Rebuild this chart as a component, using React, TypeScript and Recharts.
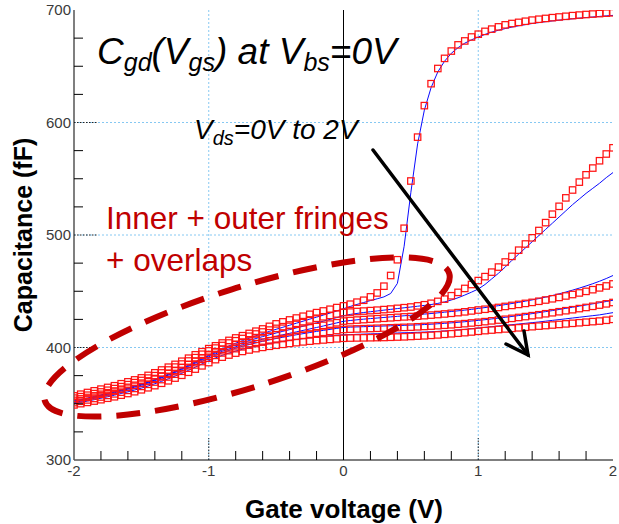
import React from 'react';
import { ComposedChart, Line, XAxis, YAxis, ReferenceLine } from 'recharts';

// Gate voltage sweep (V)
const gateVoltage = [
  -2.0, -1.95, -1.9, -1.85, -1.8, -1.75, -1.7, -1.65, -1.6, -1.55, -1.5,
  -1.45, -1.4, -1.35, -1.3, -1.25, -1.2, -1.15, -1.1, -1.05, -1.0,
  -0.95, -0.9, -0.85, -0.8, -0.75, -0.7, -0.65, -0.6, -0.55, -0.5,
  -0.45, -0.4, -0.35, -0.3, -0.25, -0.2, -0.15, -0.1, -0.05, 0.0,
  0.05, 0.1, 0.15, 0.2, 0.25, 0.3, 0.35, 0.4, 0.45, 0.5,
  0.55, 0.6, 0.65, 0.7, 0.75, 0.8, 0.85, 0.9, 0.95, 1.0,
  1.05, 1.1, 1.15, 1.2, 1.25, 1.3, 1.35, 1.4, 1.45, 1.5,
  1.55, 1.6, 1.65, 1.7, 1.75, 1.8, 1.85, 1.9, 1.95, 2.0,
];

// Measured Cgd (fF), one list per drain bias
const measVds0 = [
  357, 358.5, 360, 361.5, 363, 364.5, 366, 367.8, 369.5, 371.2, 373,
  375.2, 377.5, 380, 382.5, 385, 387.8, 390.5, 393.5, 396.3, 399,
  401.5, 404, 406.3, 408.5, 410.5, 412.5, 414.5, 416.5, 418.8, 421,
  422.8, 424.5, 426.2, 427.8, 429.5, 431, 432.5, 434, 435.5, 437,
  438.5, 440.3, 442, 445, 448.5, 454.5, 464, 478, 506, 548,
  587, 615, 634.5, 648, 657, 663.5, 669, 672.5, 676, 678.5,
  681, 683, 685, 686.8, 688, 689, 690, 691, 691.8, 692.5,
  693.2, 693.8, 694.4, 695, 695.5, 696, 696.4, 696.8, 697.2, 697.5,
];
const measVds05 = [
  355, 356.3, 357.6, 359, 360.5, 362, 363.5, 365.2, 367, 368.8, 370.7,
  372.8, 375, 377.4, 380, 382.6, 385.3, 388, 391, 394, 397,
  399.5, 401.8, 404, 406, 408, 410, 412, 413.8, 415.5, 417,
  418.5, 420, 421.5, 423, 424.5, 426, 427.3, 428.5, 429.8, 431,
  431.5, 432, 432.4, 432.8, 433.2, 433.7, 434.2, 434.8, 435.4, 436,
  437, 438, 439.3, 441, 443, 446, 449, 452.5, 456, 459.5,
  463, 467, 471.5, 476, 481, 486.5, 492, 497.5, 504, 511,
  518.5, 525.5, 533, 540, 547, 553.5, 559.5, 566, 572, 577.5,
];
const measVds1 = [
  353, 354.3, 355.6, 357, 358.4, 359.8, 361.3, 362.9, 364.6, 366.4, 368.3,
  370.3, 372.4, 374.7, 377.1, 379.6, 382.2, 384.9, 387.8, 390.8, 393.8,
  396.3, 398.5, 400.6, 402.5, 404.2, 405.8, 407.3, 408.7, 410, 411.3,
  412.6, 413.9, 415.1, 416.3, 417.5, 418.6, 419.7, 420.8, 422, 423.5,
  424, 424.4, 424.8, 425.2, 425.6, 426, 426.4, 426.8, 427.2, 427.5,
  427.9, 428.3, 428.8, 429.3, 429.8, 430.4, 431, 431.7, 432.5, 433.3,
  434, 434.8, 435.6, 436.5, 437.4, 438.3, 439.2, 440.1, 441.1, 442.2,
  443.3, 444.5, 445.8, 447.1, 448.5, 449.9, 451.4, 453, 454.7, 456.5,
];
const measVds15 = [
  351, 352.2, 353.4, 354.7, 356, 357.4, 358.8, 360.3, 361.9, 363.6, 365.4,
  367.3, 369.3, 371.5, 373.8, 376.3, 378.9, 381.6, 384.5, 387.5, 390.5,
  393, 395.2, 397.2, 399, 400.6, 402.1, 403.5, 404.8, 406, 407,
  408, 409, 410, 410.9, 411.8, 412.7, 413.5, 414.3, 415.1, 416,
  416.3, 416.5, 416.7, 416.9, 417.1, 417.3, 417.5, 417.7, 417.9, 418.1,
  418.4, 418.7, 419, 419.4, 419.8, 420.2, 420.7, 421.2, 421.8, 422.4,
  423, 423.7, 424.4, 425.1, 425.9, 426.7, 427.5, 428.3, 429.1, 430,
  430.9, 431.8, 432.7, 433.6, 434.6, 435.6, 436.6, 437.7, 438.8, 440,
];
const measVds2 = [
  349, 350.1, 351.2, 352.4, 353.6, 354.9, 356.2, 357.6, 359.1, 360.7, 362.4,
  364.2, 366.1, 368.2, 370.4, 372.8, 375.3, 378, 380.8, 383.7, 386.6,
  389.2, 391.4, 393.3, 395, 396.5, 397.8, 399, 400.1, 401.1, 402,
  402.8, 403.6, 404.3, 405, 405.6, 406.2, 406.7, 407.2, 407.7, 408.2,
  408.4, 408.5, 408.6, 408.7, 408.8, 408.9, 409.1, 409.3, 409.5, 409.8,
  410.1, 410.4, 410.8, 411.2, 411.7, 412.2, 412.7, 413.2, 413.8, 414.4,
  415, 415.5, 416, 416.5, 417, 417.5, 418, 418.5, 419, 419.5,
  420, 420.5, 421, 421.5, 422, 422.5, 423, 423.5, 424.2, 425,
];

// Simulated Cgd (fF) from the compact model
const modelVds0 = [
  352.5, 353.8, 355.1, 356.5, 357.9, 359.3, 360.8, 362.4, 364, 365.7, 367.5,
  369.5, 371.6, 373.9, 376.3, 378.8, 381.5, 384.3, 387.2, 390.2, 393.2,
  396, 398.8, 401.4, 403.8, 406.1, 408.3, 410.4, 412.4, 414.3, 416.2,
  418, 419.8, 421.6, 423.4, 425.2, 427, 428.8, 430.6, 432.5, 434.5,
  436.5, 438.3, 440, 441.7, 443.3, 445, 448, 457, 490, 538,
  581, 611, 631, 645, 654.5, 661.5, 666.5, 670.5, 673.5, 676,
  678.3, 680.3, 682, 683.5, 684.8, 686, 687, 688, 688.8, 689.6,
  690.3, 691, 691.6, 692.2, 692.8, 693.3, 693.8, 694.3, 694.8, 695.2,
];
const modelVds05 = [
  352, 353.3, 354.6, 356, 357.4, 358.8, 360.3, 361.9, 363.5, 365.2, 367,
  369, 371.1, 373.4, 375.8, 378.3, 381, 383.8, 386.7, 389.7, 392.7,
  395.3, 397.8, 400.1, 402.3, 404.3, 406.2, 408, 409.7, 411.3, 412.9,
  414.4, 415.9, 417.4, 418.9, 420.4, 421.9, 423.4, 425, 426.6, 428.3,
  429.4, 430.3, 431.1, 431.8, 432.5, 433.2, 433.9, 434.6, 435.3, 436,
  436.7, 437.4, 438.2, 439.2, 440.5, 442.2, 444.2, 446.6, 449.2, 452,
  456, 461, 466, 471.5, 477.5, 483, 488.5, 494, 499.5, 505,
  510.5, 516, 521.5, 527, 532, 537, 541.5, 546, 551, 555.5,
];
const modelVds1 = [
  351.5, 352.8, 354.1, 355.5, 356.9, 358.3, 359.8, 361.4, 363, 364.7, 366.5,
  368.5, 370.6, 372.9, 375.3, 377.8, 380.4, 383.1, 386, 388.9, 391.8,
  394.3, 396.6, 398.7, 400.7, 402.5, 404.2, 405.8, 407.3, 408.7, 410,
  411.3, 412.6, 413.9, 415.2, 416.5, 417.8, 419.1, 420.5, 421.9, 423.3,
  424, 424.6, 425.2, 425.7, 426.2, 426.7, 427.2, 427.7, 428.2, 428.7,
  429.2, 429.7, 430.2, 430.8, 431.4, 432, 432.6, 433.2, 433.9, 434.7,
  435.5, 436.3, 437.2, 438.1, 439.1, 440.1, 441.2, 442.3, 443.5, 444.8,
  446.2, 447.7, 449.3, 451, 452.8, 454.7, 456.7, 458.9, 461.3, 464,
];
const modelVds15 = [
  351, 352.2, 353.4, 354.7, 356, 357.4, 358.8, 360.3, 361.9, 363.6, 365.4,
  367.4, 369.5, 371.7, 374.1, 376.6, 379.2, 381.9, 384.7, 387.6, 390.5,
  393, 395.3, 397.4, 399.3, 401, 402.6, 404.1, 405.5, 406.8, 408,
  409.1, 410.2, 411.3, 412.3, 413.3, 414.3, 415.2, 416.1, 417, 417.8,
  418.1, 418.3, 418.5, 418.7, 418.9, 419.1, 419.3, 419.5, 419.7, 419.9,
  420.1, 420.4, 420.7, 421.1, 421.5, 421.9, 422.4, 422.9, 423.5, 424.1,
  424.7, 425.4, 426.1, 426.8, 427.6, 428.4, 429.2, 430.1, 431, 431.9,
  432.8, 433.8, 434.8, 435.8, 436.8, 437.8, 438.8, 439.8, 440.9, 442,
];
const modelVds2 = [
  350, 351.2, 352.4, 353.6, 354.9, 356.2, 357.6, 359.1, 360.6, 362.2, 363.9,
  365.8, 367.8, 369.9, 372.2, 374.6, 377.1, 379.7, 382.5, 385.4, 388.3,
  390.8, 393, 395, 396.8, 398.4, 399.9, 401.2, 402.4, 403.5, 404.5,
  405.4, 406.3, 407.1, 407.9, 408.6, 409.3, 409.9, 410.4, 410.9, 411.3,
  411.5, 411.7, 411.9, 412.1, 412.3, 412.5, 412.7, 412.9, 413.1, 413.3,
  413.5, 413.7, 414, 414.3, 414.7, 415.1, 415.6, 416.1, 416.7, 417.3,
  417.9, 418.5, 419.1, 419.7, 420.3, 420.9, 421.5, 422.1, 422.7, 423.4,
  424.1, 424.8, 425.5, 426.2, 426.9, 427.6, 428.3, 429, 430, 431,
];

const xTicks = [
  -2, -1.8, -1.6, -1.4, -1.2, -1, -0.8, -0.6, -0.4, -0.2, 0,
  0.2, 0.4, 0.6, 0.8, 1, 1.2, 1.4, 1.6, 1.8, 2,
];
const yTicks = [
  300, 325, 350, 375, 400, 425, 450, 475, 500, 525, 550, 575, 600,
  625, 650, 675, 700,
];
const xLabels = [-2, -1, 0, 1, 2];
const yLabels = [300, 400, 500, 600, 700];
const xGrid = [-1, 1];
const yGrid = [400, 500, 600];

const measured = [measVds0, measVds05, measVds1, measVds15, measVds2];
const model = [modelVds0, modelVds05, modelVds1, modelVds15, modelVds2];

const rows = gateVoltage.map((v, i) => {
  const r: Record<string, number> = { v };
  measured.forEach((s, k) => (r['m' + k] = s[i]));
  model.forEach((s, k) => (r['s' + k] = s[i]));
  return r;
});

const FONT = 'Arial, "Liberation Sans", sans-serif';
const GRID = '#86c8f2';
const DARK_RED = '#c00000';

const near = (a: number, list: number[]) => list.some((b) => Math.abs(a - b) < 1e-6);

const square = (p: any) => {
  const { cx, cy, key } = p;
  if (cx == null || cy == null) return <g key={key} />;
  return (
    <rect
      key={key}
      x={cx - 3.2}
      y={cy - 3.2}
      width={6.4}
      height={6.4}
      fill="none"
      stroke="#ff1414"
      strokeWidth={1.25}
    />
  );
};

const BottomTick = (p: any) => {
  const v = p.payload.value;
  const major = near(v, xLabels);
  return (
    <g>
      {!major && <line x1={p.x} x2={p.x} y1={p.y} y2={p.y - 9} stroke="#000" />}
      {major && near(v, xGrid) && (
        <line x1={p.x} x2={p.x} y1={p.y} y2={p.y - 22} stroke="#222" strokeDasharray="1.5 1.5" />
      )}
      {major && (
        <text x={p.x} y={p.y + 16} textAnchor="middle" fontSize={15} fontFamily={FONT} fill="#3a3a3a">
          {v}
        </text>
      )}
    </g>
  );
};

const TopTick = (p: any) => {
  const v = p.payload.value;
  const major = near(v, xLabels);
  return (
    <g>
      {!major && <line x1={p.x} x2={p.x} y1={p.y} y2={p.y + 9} stroke="#000" />}
      {major && near(v, xGrid) && (
        <line x1={p.x} x2={p.x} y1={p.y} y2={p.y + 22} stroke="#222" strokeDasharray="1.5 1.5" />
      )}
    </g>
  );
};

const LeftTick = (p: any) => {
  const v = p.payload.value;
  const major = near(v, yLabels);
  return (
    <g>
      {!major && <line x1={p.x} x2={p.x + 9} y1={p.y} y2={p.y} stroke="#000" />}
      {major && near(v, yGrid) && (
        <line x1={p.x} x2={p.x + 23} y1={p.y} y2={p.y} stroke="#222" strokeDasharray="1.5 1.5" />
      )}
      {major && (
        <text x={p.x - 3} y={p.y + 5} textAnchor="end" fontSize={15} fontFamily={FONT} fill="#3a3a3a">
          {v}
        </text>
      )}
    </g>
  );
};

export default function App() {
  return (
    <div style={{ position: 'relative', width: 619, height: 524, background: '#fff' }}>
      <style>{'body{margin:0}'}</style>
      <ComposedChart
        width={619}
        height={524}
        data={rows}
        margin={{ top: 10, right: 6, bottom: 34, left: 34 }}
      >
        <XAxis
          xAxisId="b"
          dataKey="v"
          type="number"
          domain={[-2, 2]}
          ticks={xTicks}
          interval={0}
          height={30}
          tickSize={0}
          tickMargin={0}
          tickLine={false}
          axisLine={{ stroke: '#000' }}
          tick={BottomTick}
          allowDataOverflow
        />
        <XAxis
          xAxisId="t"
          orientation="top"
          dataKey="v"
          type="number"
          domain={[-2, 2]}
          ticks={xTicks}
          interval={0}
          height={0}
          tickSize={0}
          tickMargin={0}
          tickLine={false}
          axisLine={{ stroke: '#000' }}
          tick={TopTick}
        />
        <YAxis
          yAxisId="l"
          type="number"
          domain={[300, 700]}
          ticks={yTicks}
          interval={0}
          width={40}
          tickSize={0}
          tickMargin={0}
          tickLine={false}
          axisLine={{ stroke: '#555', strokeWidth: 1.5 }}
          tick={LeftTick}
          allowDataOverflow
        />
        <YAxis
          yAxisId="r"
          orientation="right"
          type="number"
          domain={[300, 700]}
          width={0}
          tick={false}
          tickLine={false}
          axisLine={{ stroke: '#000' }}
        />

        {yGrid.map((y) => (
          <ReferenceLine
            key={'gy' + y}
            xAxisId="b"
            yAxisId="l"
            y={y}
            stroke={GRID}
            strokeDasharray="2 2"
          />
        ))}
        {xGrid.map((x) => (
          <ReferenceLine
            key={'gx' + x}
            xAxisId="b"
            yAxisId="l"
            x={x}
            stroke={GRID}
            strokeDasharray="2 2"
          />
        ))}
        <ReferenceLine xAxisId="b" yAxisId="l" x={0} stroke="#000" />

        {measured.map((_, k) => (
          <Line
            key={'m' + k}
            xAxisId="b"
            yAxisId="l"
            dataKey={'m' + k}
            stroke="none"
            dot={square}
            activeDot={false}
            isAnimationActive={false}
          />
        ))}
        {model.map((_, k) => (
          <Line
            key={'s' + k}
            xAxisId="b"
            yAxisId="l"
            dataKey={'s' + k}
            type="linear"
            stroke="#0a0aff"
            strokeWidth={1}
            dot={false}
            activeDot={false}
            isAnimationActive={false}
          />
        ))}
      </ComposedChart>

      <svg
        width={619}
        height={524}
        style={{ position: 'absolute', left: 0, top: 0, pointerEvents: 'none' }}
        fontFamily={FONT}
      >
        <text x={97} y={64} fontSize={37} fontStyle="italic" fill="#000">
          C<tspan fontSize={25} dy={7}>gd</tspan>
          <tspan fontSize={37} dy={-7}>(V</tspan>
          <tspan fontSize={25} dy={7}>gs</tspan>
          <tspan fontSize={37} dy={-7}>) at V</tspan>
          <tspan fontSize={25} dy={7}>bs</tspan>
          <tspan fontSize={37} dy={-7}>=0V</tspan>
        </text>
        <text x={194} y={139} fontSize={28} fontStyle="italic" fill="#000">
          V<tspan fontSize={20} dy={6}>ds</tspan>
          <tspan fontSize={28} dy={-6}>=0V to 2V</tspan>
        </text>

        <text x={106} y={229} fontSize={31.5} fill={DARK_RED}>
          Inner + outer fringes
        </text>
        <text x={106} y={271} fontSize={31.5} fill={DARK_RED}>
          + overlaps
        </text>

        <ellipse
          cx={247}
          cy={337}
          rx={212}
          ry={50}
          transform="rotate(-17.5 247 337)"
          fill="none"
          stroke={DARK_RED}
          strokeWidth={6}
          strokeDasharray="24 15"
        />

        <g stroke="#000" strokeWidth={3.5} strokeLinecap="round" fill="none">
          <line x1={373} y1={150} x2={528} y2={355} />
          <polyline points="506,344 528,355 524,331" strokeLinejoin="miter" />
        </g>

        <text
          x={23}
          y={235}
          fontSize={25}
          fontWeight="bold"
          textAnchor="middle"
          transform="rotate(-90 23 235)"
          dy={9}
          fill="#000"
        >
          Capacitance (fF)
        </text>
        <text x={344} y={518} fontSize={26} fontWeight="bold" textAnchor="middle" fill="#000">
          Gate voltage (V)
        </text>
      </svg>
    </div>
  );
}
